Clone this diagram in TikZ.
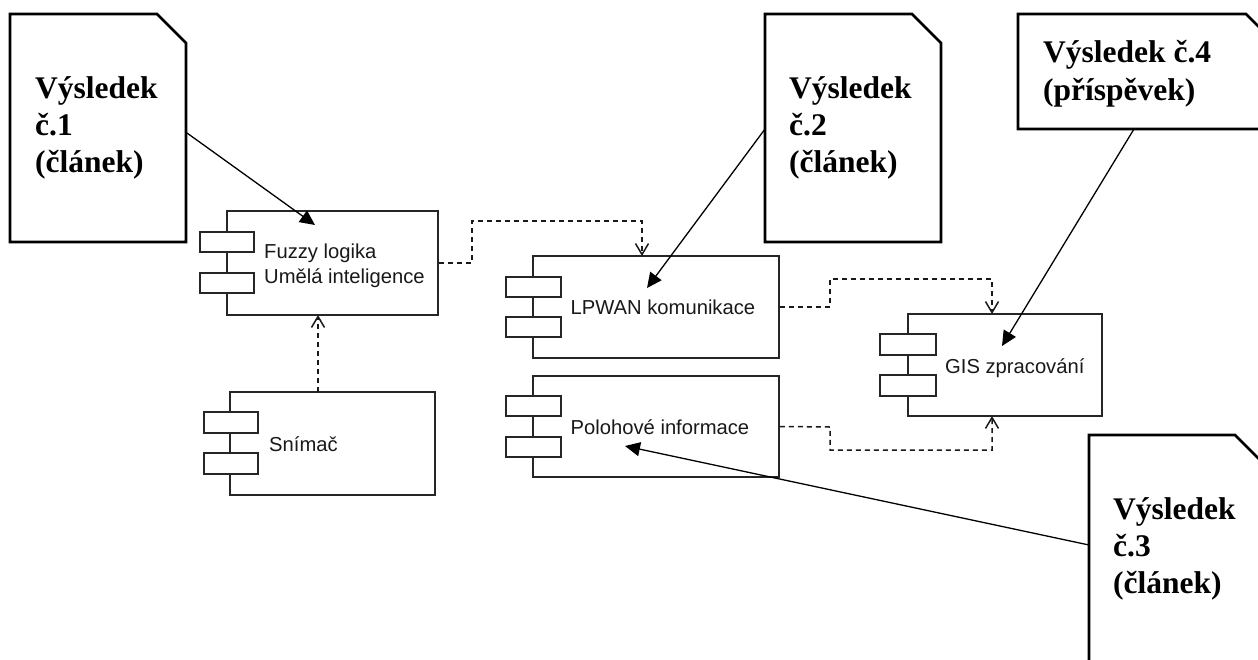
\documentclass[tikz,border=0pt]{standalone}
\usepackage{fontspec}
\setmainfont{Liberation Serif}
\newfontfamily\compfont{Liberation Sans}
\usetikzlibrary{arrows.meta}
\tikzset{
  x=1pt,y=-1pt,
  docshape/.style={draw=black,line width=2.6pt,fill=white,line join=miter},
  doctext/.style={anchor=base west,inner sep=0pt,font=\fontsize{31.5}{37}\selectfont\bfseries},
  compbox/.style={draw=black!85,line width=1.8pt,fill=white,inner sep=0pt,rectangle},
  comptext/.style={anchor=base west,inner sep=0pt,text=black!90,font=\compfont\fontsize{20.2}{24}\selectfont},
  dep/.style={draw=black!90,line width=1.5pt,dash pattern=on 5pt off 4pt,-{Straight Barb[length=11pt,width=13pt,line width=1.5pt]}},
  note/.style={draw=black,line width=1.3pt,-{Triangle[length=15pt,width=14pt]}}
}
\newcommand{\component}[9]{%
  % name, left, top, right, bottom, portleft, portright, y1 (top port centre), y2
  \node[compbox,minimum width={(#4-#2)*1pt},minimum height={(#5-#3)*1pt}] (#1) at ({(#2+#4)/2},{(#3+#5)/2}) {};
  \node[compbox,minimum width={(#7-#6)*1pt},minimum height=20.5pt] (#1p1) at ({(#6+#7)/2},#8) {};
  \node[compbox,minimum width={(#7-#6)*1pt},minimum height=20.5pt] (#1p2) at ({(#6+#7)/2},#9) {};
}
\begin{document}
\begin{tikzpicture}
\useasboundingbox (0,0) rectangle (1258,659);
\clip (0,0) rectangle (1258,659);

% components
\component{fuzzy}{227}{211}{438}{315}{200}{254}{242}{283}
\component{lpwan}{533}{256}{779}{358}{506}{561}{287}{327}
\component{poloha}{533}{376}{779}{477}{506}{561}{406}{447}
\component{gis}{908}{314}{1102}{416}{880}{936}{344.5}{385.5}
\component{snimac}{230}{392}{435}{495}{204}{258}{422.5}{463.5}

\node[comptext] (tfuzzy1) at (264,258) {Fuzzy logika};
\node[comptext] (tfuzzy2) at (264,283) {Umělá inteligence};
\node[comptext] (tlpwan) at (570.5,314) {LPWAN komunikace};
\node[comptext] (tpoloha) at (570.5,434) {Polohové informace};
\node[comptext] (tgis) at (945,373) {GIS zpracování};
\node[comptext] (tsnimac) at (269,451) {Snímač};

% documents
\draw[docshape] (10,14) -- (157,14) -- (186,43) -- (186,242) -- (10,242) -- cycle;
\draw[docshape] (765,14) -- (912,14) -- (941,43) -- (941,242) -- (765,242) -- cycle;
\draw[docshape] (1018,14) -- (1246,14) -- (1275,43) -- (1275,129) -- (1018,129) -- cycle;
\draw[docshape] (1089,435) -- (1235,435) -- (1264,464) -- (1264,680) -- (1089,680) -- cycle;

\node[doctext] (d1a) at (35,98) {Výsledek};
\node[doctext] (d1b) at (35,135.5) {č.1};
\node[doctext] (d1c) at (35,172.5) {(článek)};
\node[doctext] (d2a) at (789,98) {Výsledek};
\node[doctext] (d2b) at (789,135.5) {č.2};
\node[doctext] (d2c) at (789,172.5) {(článek)};
\node[doctext] (d4a) at (1043,62) {Výsledek č.4};
\node[doctext] (d4b) at (1043,100) {(příspěvek)};
\node[doctext] (d3a) at (1113,519) {Výsledek};
\node[doctext] (d3b) at (1113,556.5) {č.3};
\node[doctext] (d3c) at (1113,593.5) {(článek)};

% connector ends
\coordinate (d1out) at (187,133);
\coordinate (d2out) at (765,129);
\coordinate (d4out) at (1134,129);
\coordinate (d3out) at (1089,545);
\coordinate (fuzzyin) at (315,225);
\coordinate (lpwanin) at (647,288);
\coordinate (gisin) at (1002,346);
\coordinate (polohain) at (625,446);
\coordinate (a1) at (472,263);
\coordinate (a2) at (472,221);
\coordinate (a3) at (642,221);
\coordinate (a4) at (642,256);
\coordinate (b1) at (830,307);
\coordinate (b2) at (830,279);
\coordinate (b3) at (992,279);
\coordinate (b4) at (992,314);
\coordinate (c1) at (830,427);
\coordinate (c2) at (830,450);
\coordinate (c3) at (992,450);
\coordinate (c4) at (992,416);
\coordinate (e1) at (318,392);
\coordinate (e2) at (318,315);

% dependencies
\draw[dep] (fuzzy.east) -- (a1) -- (a2) -- (a3) -- (a4);
\draw[dep] (lpwan.east) -- (b1) -- (b2) -- (b3) -- (b4);
\draw[dep] (poloha.east) -- (c1) -- (c2) -- (c3) -- (c4);
\draw[dep] (e1) -- (e2);

% note links
\draw[note] (d1out) -- (fuzzyin);
\draw[note] (d2out) -- (lpwanin);
\draw[note] (d4out) -- (gisin);
\draw[note] (d3out) -- (polohain);
\end{tikzpicture}
\end{document}
